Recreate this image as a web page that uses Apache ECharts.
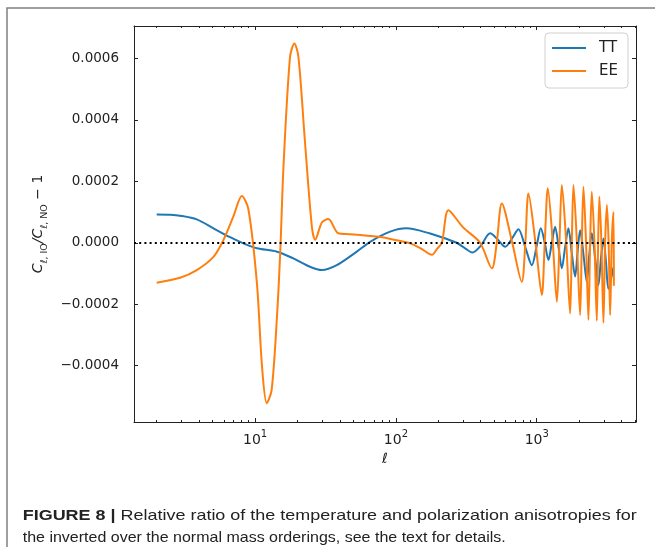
<!DOCTYPE html>
<html>
<head>
<meta charset="utf-8">
<script src="https://cdn.jsdelivr.net/npm/echarts@6/dist/echarts.min.js"></script>
<style>
html,body{margin:0;padding:0;background:#fff;}
#chart{width:655px;height:547px;}
</style>
</head>
<body>
<div id="chart"></div>
<script>
// ---- data ----
const ttL = [2, 2.5, 2.93, 3.85, 5.06, 6.64, 8.26, 10.3, 14.3, 18.7, 24.5, 29.8, 38, 52.7, 65.6, 91, 119, 175, 230, 270, 310, 350, 400, 467, 530, 597, 670, 741, 830, 923, 1000, 1069, 1140, 1211, 1280, 1351, 1430, 1508, 1590, 1679, 1770, 1874, 1950, 2033, 2150, 2268, 2360, 2461, 2600, 2742, 2860, 2976, 3100, 3230, 3500];
const ttV = [9.2e-5, 9.1e-5, 8.8e-5, 7.6e-5, 4.7e-5, 1.8e-5, -2e-6, -1.8e-5, -2.9e-5, -5.1e-5, -7.8e-5, -8.9e-5, -7.3e-5, -2.9e-5, 3e-6, 3.6e-5, 4.7e-5, 3.0e-5, 1.2e-5, 0, -1.8e-5, -3.2e-5, -1e-5, 3.1e-5, 1e-5, -1.3e-5, 1.5e-5, 4.4e-5, -1.5e-5, -7.3e-5, -1e-5, 4.7e-5, 0, -5.6e-5, 0, 5.2e-5, -1.5e-5, -8.3e-5, -1.5e-5, 4.7e-5, -3e-5, -1.1e-4, -3e-5, 4.1e-5, -4e-5, -1.27e-4, -4e-5, 3.1e-5, -5e-5, -1.38e-4, -5e-5, 1.4e-5, -6e-5, -1.5e-4, -8e-5];
const eeL = [2, 2.93, 3.85, 5.06, 5.96, 7.0, 8.05, 8.96, 10.3, 11.2, 12.1, 13.1, 14.3, 15.1, 15.9, 17.7, 19.0, 20.3, 22.5, 25.3, 26.7, 29.8, 33.1, 39, 47.3, 65.6, 80, 101, 126, 150, 180, 196, 212, 236, 300, 396, 480, 520, 565, 670, 783, 830, 873, 980, 1087, 1140, 1199, 1300, 1390, 1450, 1508, 1620, 1726, 1775, 1823, 1930, 2033, 2090, 2147, 2240, 2329, 2395, 2461, 2570, 2671, 2730, 2786, 2880, 2977, 3060, 3148, 3240, 3321, 3410, 3507, 3530];
const eeV = [-1.3e-4, -1.14e-4, -8.9e-5, -4.6e-5, 9e-6, 8.5e-5, 1.52e-4, 1.09e-4, -1.32e-4, -4.03e-4, -5.22e-4, -4.79e-4, -2.4e-4, -2.4e-5, 2.47e-4, 6.05e-4, 6.48e-4, 6.05e-4, 3.4e-4, 5.2e-5, 1.0e-5, 6.6e-5, 7.7e-5, 3.1e-5, 2.8e-5, 2.2e-5, 1.8e-5, 8e-6, -2e-6, -1.8e-5, -3.9e-5, -2e-5, 0, 1.06e-4, 5e-5, 0, -8.3e-5, 0, 1.28e-4, 0, -1.27e-4, 0, 1.6e-4, 0, -1.7e-4, 0, 1.77e-4, 0, -1.92e-4, 0, 1.88e-4, 0, -2.3e-4, 0, 1.88e-4, 0, -2.35e-4, 0, 1.82e-4, 0, -2.51e-4, 0, 1.66e-4, 0, -2.54e-4, 0, 1.5e-4, 0, -2.6e-4, 0, 1.23e-4, 0, -2.35e-4, 0, 1.0e-4, -1.4e-4];
const yTicks = [-0.0004, -0.0002, 0, 0.0002, 0.0004, 0.0006];
const xMajor = [10, 100, 1000];
const xMinor = [2, 3, 4, 5, 6, 7, 8, 9, 20, 30, 40, 50, 60, 70, 80, 90, 200, 300, 400, 500, 600, 700, 800, 900, 2000, 3000, 4000, 5000];
const seriesNames = ['TT', 'EE'];
const captionBold = 'FIGURE 8 |';
const captionLine1 = ' Relative ratio of the temperature and polarization anisotropies for';
const captionLine2 = 'the inverted over the normal mass orderings, see the text for details.';

// ---- chart ----
const chart = echarts.init(document.getElementById('chart'), null, {renderer: 'canvas'});
const zip = (a, b) => a.map((v, i) => [v, b[i]]);
const X_MIN = 1.38, X_MAX = 5070, Y_MIN = -0.000583, Y_MAX = 0.000705;
const axisCol = '#222';
const capFont = 'Liberation Sans';
function measure(text, weight) {
  const c = document.createElement('canvas').getContext('2d');
  c.font = (weight || 'normal') + ' 15px "' + capFont + '"';
  return c.measureText(text).width;
}
const w1 = measure(captionBold, 'bold') + measure(captionLine1);
const w2 = measure(captionLine2);
const s1 = 614 / w1, s2 = 483 / w2;

function xAxisDef(pos, major, showLabel) {
  return {
    type: 'log', logBase: 10, min: X_MIN, max: X_MAX, position: pos, gridIndex: 0,
    axisLine: {show: major, onZero: false, lineStyle: {color: axisCol, width: 1}},
    axisTick: {show: true, inside: true, length: major ? 4 : 2, customValues: major ? xMajor : xMinor, lineStyle: {color: axisCol, width: 1}},
    axisLabel: {show: showLabel, customValues: xMajor, margin: 7,
      formatter: v => '{b|10}{sup|' + Math.round(Math.log10(v)) + '}',
      rich: {
        b: {fontSize: 14, fontFamily: 'DejaVu Sans', color: '#222', verticalAlign: 'top', lineHeight: 16, padding: [4, 0, 0, 0]},
        sup: {fontSize: 10, fontFamily: 'DejaVu Sans', color: '#222', verticalAlign: 'top', lineHeight: 10}
      }},
    splitLine: {show: false}, minorTick: {show: false},
    name: showLabel ? 'ℓ' : '', nameLocation: 'middle', nameGap: 30,
    nameTextStyle: {fontSize: 14, fontStyle: 'italic', fontFamily: 'DejaVu Sans', color: '#222'}
  };
}

const option = {
  animation: false,
  backgroundColor: '#fff',
  grid: {left: 134, right: 19, top: 26, bottom: 125, containLabel: false},
  legend: {
    data: seriesNames, orient: 'vertical', right: 27, top: 33,
    icon: 'rect', itemWidth: 34, itemHeight: 2, itemGap: 5,
    padding: [6, 10, 8, 7],
    borderColor: '#d0d0d0', borderWidth: 1, borderRadius: 4,
    backgroundColor: 'rgba(255,255,255,0.85)',
    textStyle: {fontSize: 15, fontFamily: 'DejaVu Sans', color: '#222', lineHeight: 18, padding: [0, 0, 0, 8]}
  },
  xAxis: [
    xAxisDef('bottom', true, true),
    xAxisDef('bottom', false, false),
    xAxisDef('top', true, false),
    xAxisDef('top', false, false)
  ],
  yAxis: [
    {
      type: 'value', min: Y_MIN, max: Y_MAX, position: 'left',
      axisLine: {show: true, onZero: false, lineStyle: {color: axisCol, width: 1}},
      axisTick: {show: true, inside: true, length: 4, customValues: yTicks, lineStyle: {color: axisCol}},
      axisLabel: {customValues: yTicks, margin: 15, fontSize: 13.5, fontFamily: 'DejaVu Sans', color: '#222',
        formatter: v => (v < -1e-12 ? '\u2212' : '') + Math.abs(v).toFixed(4)},
      splitLine: {show: false},
      name: '{c|C}{s|ℓ, IO}{c|/C}{s|ℓ, NO}{n| \u2212 1}',
      nameLocation: 'middle', nameRotate: 90, nameGap: 84,
      nameTextStyle: {
        rich: {
          c: {fontSize: 14, fontStyle: 'italic', fontFamily: 'DejaVu Sans', color: '#222', verticalAlign: 'bottom', lineHeight: 16, padding: [0, 0, 4, 0]},
          s: {fontSize: 9.5, fontFamily: 'DejaVu Sans', color: '#222', verticalAlign: 'bottom', lineHeight: 11},
          n: {fontSize: 14, fontFamily: 'DejaVu Sans', color: '#222', verticalAlign: 'bottom', lineHeight: 16, padding: [0, 0, 4, 0]}
        }
      }
    },
    {
      type: 'value', min: Y_MIN, max: Y_MAX, position: 'right',
      axisLine: {show: true, onZero: false, lineStyle: {color: axisCol, width: 1}},
      axisTick: {show: true, inside: true, length: 4, customValues: yTicks, lineStyle: {color: axisCol}},
      axisLabel: {show: false}, splitLine: {show: false}
    }
  ],
  series: [
    {
      name: 'TT', type: 'line', xAxisIndex: 0, yAxisIndex: 0, data: zip(ttL, ttV),
      showSymbol: false, symbol: 'none', smooth: 0.3, z: 2,
      lineStyle: {color: '#1f77b4', width: 2}, itemStyle: {color: '#1f77b4'}
    },
    {
      name: 'EE', type: 'line', xAxisIndex: 0, yAxisIndex: 0, data: zip(eeL, eeV),
      showSymbol: false, symbol: 'none', smooth: 0.3, z: 3,
      lineStyle: {color: '#ff7f0e', width: 2}, itemStyle: {color: '#ff7f0e'},
      markLine: {
        silent: true, symbol: ['none', 'none'], label: {show: false}, animation: false,
        lineStyle: {color: '#000', type: [2, 3.2], width: 2},
        emphasis: {disabled: true},
        data: [{yAxis: 0}]
      }
    }
  ],
  graphic: [
    {type: 'polyline', silent: true, shape: {points: [[7, 547], [7, 8], [655, 8]]}, style: {stroke: '#808080', lineWidth: 1.5, fill: null}},
    {type: 'text', x: 22.7, y: 515.5, scaleX: s1, silent: true,
      style: {text: '{b|' + captionBold + '}' + captionLine1, fontSize: 15, fontFamily: capFont, fill: '#222', verticalAlign: 'middle',
        rich: {b: {fontWeight: 'bold', fontSize: 15, fontFamily: capFont, fill: '#222'}}}},
    {type: 'text', x: 22.7, y: 537.7, scaleX: s2, silent: true,
      style: {text: captionLine2, fontSize: 15, fontFamily: capFont, fill: '#222', verticalAlign: 'middle'}}
  ]
};
chart.setOption(option);
</script>
</body>
</html>
